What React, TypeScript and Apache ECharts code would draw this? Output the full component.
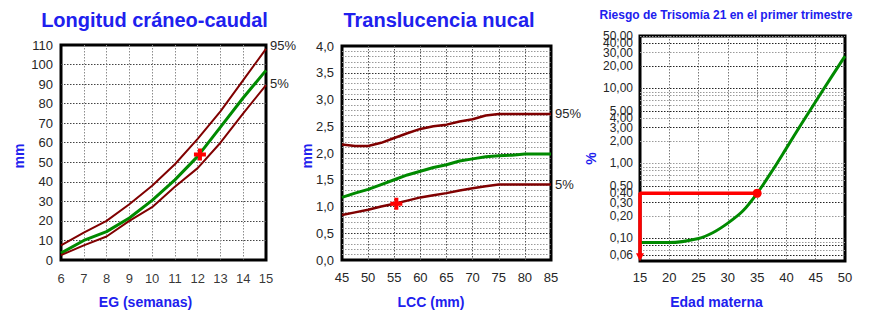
import React, { useEffect, useRef } from 'react';
import * as echarts from 'echarts';

const FONT = '"Liberation Sans", Arial, Helvetica, sans-serif';
const BLUE = '#2020ee';
const DARKRED = '#800000';
const GREEN = '#008a00';
const LABEL = '#262626';
const DOT = [1.5, 1.5];

// ---- Chart 1: Longitud cráneo-caudal ----
const weeks = [6, 7, 8, 9, 10, 11, 12, 13, 14, 15];
const weekTicks = [6, 7, 8, 9, 10, 11, 12, 13, 14, 15];
const crl95 = [7.5, 14, 20, 28.5, 38, 49, 62, 76, 92, 108];
const crl50 = [3.5, 10, 14.5, 21.5, 30.5, 41, 53, 68, 83, 97];
const crl5 = [2.5, 7.5, 12, 20, 27, 37.5, 47, 60, 75, 89.5];
const crlPoint = [12.1, 54];
const crlMin = 0;
const crlMax = 110;

// ---- Chart 2: Translucencia nucal ----
const lcc = [45, 47.5, 50, 52.5, 55, 57.5, 60, 62.5, 65, 67.5, 70, 72.5, 75, 77.5, 80, 82.5, 85];
const tn95 = [2.16, 2.13, 2.13, 2.19, 2.28, 2.37, 2.45, 2.5, 2.53, 2.59, 2.63, 2.7, 2.73, 2.73, 2.73, 2.73, 2.73];
const tn50 = [1.17, 1.25, 1.32, 1.41, 1.5, 1.59, 1.66, 1.73, 1.78, 1.85, 1.89, 1.93, 1.95, 1.96, 1.98, 1.98, 1.98];
const tn5 = [0.84, 0.89, 0.94, 1.0, 1.05, 1.11, 1.17, 1.21, 1.25, 1.3, 1.34, 1.38, 1.41, 1.41, 1.41, 1.41, 1.41];
const tnPoint = [55.4, 1.05];

// ---- Chart 3: Riesgo de Trisomía 21 ----
const ages = [15, 20, 25, 27.5, 30, 32.5, 35, 37.5, 40, 42.5, 45, 47.5, 50];
const risk = [0.088, 0.088, 0.1, 0.12, 0.16, 0.23, 0.4, 0.78, 1.6, 3.3, 6.7, 13.5, 27];
const riskGridValues = [
  0.06, 0.07, 0.08, 0.09, 0.1, 0.2, 0.3, 0.4, 0.5, 0.6, 0.7, 0.8, 0.9,
  1, 2, 3, 4, 5, 6, 7, 8, 9, 10, 20, 30, 40, 50,
];
const riskLabelValues = [50, 40, 30, 20, 10, 5, 4, 3, 2, 1, 0.5, 0.4, 0.3, 0.2, 0.1, 0.06];
const riskDarkValues = [40, 20, 10, 5, 3, 0.5, 0.3, 0.1, 0.08, 0.06];
const riskMin = 0.05;
const riskMax = 50;
const patientAge = 35;
const patientRisk = 0.4;
const arrowRisk = 0.056;

const fmtComma = (v: number, d: number) => v.toFixed(d).replace('.', ',');

const CROSS = 'path://M4,0H8V4H12V8H8V12H4V8H0V4H4Z';

function buildOption() {
  const gridBase = {
    show: true,
    borderColor: '#000',
    borderWidth: 3,
    backgroundColor: '#fff',
    containLabel: false,
  };
  const axisCommon = {
    axisLine: { show: false },
    axisTick: { show: false },
  };
  const xLabel = (margin: number) => ({
    color: LABEL,
    fontSize: 13,
    fontFamily: FONT,
    margin,
    interval: 0,
    hideOverlap: false,
  });

  const markLineData = riskGridValues.map((v) => {
    const labeled = riskLabelValues.includes(v);
    const dark = riskDarkValues.includes(v);
    return {
      yAxis: v,
      lineStyle: { color: dark ? '#222' : '#9a9a9a', type: DOT, width: 1 },
      label: labeled
        ? { show: true, formatter: fmtComma(v, 2) }
        : { show: false },
    };
  });

  const text = (t: string, x: number, y: number, size: number, rot = 0) => ({
    type: 'text',
    x,
    y,
    rotation: rot,
    silent: true,
    style: {
      text: t,
      fill: BLUE,
      fontSize: size,
      fontWeight: 'bold',
      fontFamily: FONT,
      align: 'center',
      verticalAlign: 'middle',
    },
  });

  const endLabel = (t: string, offY: number) => ({
    show: true,
    formatter: t,
    color: LABEL,
    fontSize: 13,
    fontFamily: FONT,
    distance: 4,
    offset: [0, offY],
  });

  return {
    animation: false,
    backgroundColor: '#fff',
    textStyle: { fontFamily: FONT },
    graphic: [
      text('Longitud cráneo-caudal', 154.5, 20, 20),
      text('Translucencia nucal', 439, 20, 20),
      text('Riesgo de Trisomía 21 en el primer trimestre', 726, 15, 12),
      text('EG (semanas)', 145.5, 302, 14),
      text('LCC (mm)', 431, 302, 14),
      text('Edad materna', 716.5, 302, 14),
      text('mm', 19, 156, 14, Math.PI / 2),
      text('mm', 306.5, 156, 14, Math.PI / 2),
      text('%', 591, 158.5, 14, Math.PI / 2),
    ],
    grid: [
      { ...gridBase, left: 61, top: 45, width: 205, height: 215 },
      { ...gridBase, left: 342, top: 46, width: 209, height: 214 },
      { ...gridBase, left: 640, top: 36, width: 205, height: 225 },
    ],
    xAxis: [
      {
        gridIndex: 0,
        type: 'value',
        min: 6,
        max: 15,
        interval: 1,
        ...axisCommon,
        axisLabel: { show: false },
        splitLine: {
          show: true,
          showMinLine: false,
          showMaxLine: false,
          lineStyle: { color: '#8c8c8c', type: DOT, width: 1 },
        },
      },
      {
        gridIndex: 1,
        type: 'value',
        min: 45,
        max: 85,
        interval: 5,
        ...axisCommon,
        axisLabel: xLabel(11),
        splitLine: {
          show: true,
          showMinLine: false,
          showMaxLine: false,
          lineStyle: { color: '#555', type: DOT, width: 1 },
        },
      },
      {
        gridIndex: 2,
        type: 'value',
        min: 15,
        max: 50,
        interval: 5,
        ...axisCommon,
        axisLabel: xLabel(10),
        splitLine: {
          show: true,
          showMinLine: false,
          showMaxLine: false,
          lineStyle: { color: '#777', type: DOT, width: 1 },
        },
      },
    ],
    yAxis: [
      {
        gridIndex: 0,
        type: 'value',
        min: crlMin,
        max: crlMax,
        interval: 10,
        ...axisCommon,
        axisLabel: { color: LABEL, fontSize: 13, fontFamily: FONT, margin: 8, interval: 0, hideOverlap: false },
        splitLine: {
          show: true,
          showMinLine: false,
          showMaxLine: false,
          lineStyle: { color: '#444', type: DOT, width: 1 },
        },
      },
      {
        gridIndex: 1,
        type: 'value',
        min: 0,
        max: 4,
        interval: 0.5,
        ...axisCommon,
        axisLabel: {
          color: LABEL,
          fontSize: 13,
          fontFamily: FONT,
          margin: 8,
          interval: 0,
          hideOverlap: false,
          formatter: (v: number) => fmtComma(v, 1),
        },
        splitLine: {
          show: true,
          showMinLine: false,
          showMaxLine: false,
          lineStyle: { color: '#333', type: DOT, width: 1 },
        },
        minorTick: { show: false, splitNumber: 5 },
        minorSplitLine: {
          show: true,
          lineStyle: { color: '#9a9a9a', type: DOT, width: 1 },
        },
      },
      {
        gridIndex: 2,
        type: 'log',
        logBase: 10,
        min: riskMin,
        max: riskMax,
        ...axisCommon,
        axisLabel: { show: false },
        splitLine: { show: false },
      },
    ],
    series: [
      {
        // tick labels of the gestational-age axis, placed by the x scale
        name: 'EG ticks',
        type: 'scatter',
        xAxisIndex: 0,
        yAxisIndex: 0,
        data: weekTicks.map((w) => [w, crlMin]),
        symbol: 'circle',
        symbolSize: 1,
        itemStyle: { color: 'rgba(0,0,0,0)' },
        silent: true,
        clip: false,
        label: {
          show: true,
          position: 'bottom',
          distance: 11,
          color: '#000',
          fontSize: 13,
          fontFamily: FONT,
          formatter: (p: any) => String(p.value[0]),
        },
        z: 1,
      },
      {
        name: 'LCC 95%',
        type: 'line',
        xAxisIndex: 0,
        yAxisIndex: 0,
        data: weeks.map((w, i) => [w, crl95[i]]),
        symbol: 'none',
        lineStyle: { color: DARKRED, width: 2 },
        endLabel: endLabel('95%', -3),
        z: 3,
      },
      {
        name: 'LCC 50%',
        type: 'line',
        xAxisIndex: 0,
        yAxisIndex: 0,
        data: weeks.map((w, i) => [w, crl50[i]]),
        symbol: 'none',
        lineStyle: { color: GREEN, width: 3 },
        z: 3,
      },
      {
        name: 'LCC 5%',
        type: 'line',
        xAxisIndex: 0,
        yAxisIndex: 0,
        data: weeks.map((w, i) => [w, crl5[i]]),
        symbol: 'none',
        lineStyle: { color: DARKRED, width: 2 },
        endLabel: endLabel('5%', -2),
        z: 3,
      },
      {
        name: 'LCC paciente',
        type: 'scatter',
        xAxisIndex: 0,
        yAxisIndex: 0,
        data: [crlPoint],
        symbol: CROSS,
        symbolSize: 12,
        itemStyle: { color: '#ff0000', opacity: 1 },
        z: 5,
      },
      {
        name: 'TN 95%',
        type: 'line',
        xAxisIndex: 1,
        yAxisIndex: 1,
        data: lcc.map((x, i) => [x, tn95[i]]),
        symbol: 'none',
        lineStyle: { color: DARKRED, width: 2.5 },
        endLabel: endLabel('95%', 0),
        z: 3,
      },
      {
        name: 'TN 50%',
        type: 'line',
        xAxisIndex: 1,
        yAxisIndex: 1,
        data: lcc.map((x, i) => [x, tn50[i]]),
        symbol: 'none',
        lineStyle: { color: GREEN, width: 3 },
        z: 3,
      },
      {
        name: 'TN 5%',
        type: 'line',
        xAxisIndex: 1,
        yAxisIndex: 1,
        data: lcc.map((x, i) => [x, tn5[i]]),
        symbol: 'none',
        lineStyle: { color: DARKRED, width: 2.5 },
        endLabel: endLabel('5%', 0),
        z: 3,
      },
      {
        name: 'TN paciente',
        type: 'scatter',
        xAxisIndex: 1,
        yAxisIndex: 1,
        data: [tnPoint],
        symbol: CROSS,
        symbolSize: 12,
        itemStyle: { color: '#ff0000', opacity: 1 },
        z: 5,
      },
      {
        name: 'Riesgo',
        type: 'line',
        xAxisIndex: 2,
        yAxisIndex: 2,
        data: ages.map((a, i) => [a, risk[i]]),
        symbol: 'none',
        smooth: 0.3,
        lineStyle: { color: GREEN, width: 3 },
        z: 3,
        markLine: {
          silent: true,
          symbol: ['none', 'none'],
          z: 1,
          animation: false,
          label: {
            position: 'start',
            distance: 7,
            color: LABEL,
            fontSize: 12,
            fontFamily: FONT,
          },
          emphasis: { disabled: true },
          data: markLineData,
        },
      },
      {
        name: 'Edad paciente',
        type: 'line',
        xAxisIndex: 2,
        yAxisIndex: 2,
        data: [
          [patientAge, patientRisk],
          [ages[0], patientRisk],
          [ages[0], arrowRisk],
        ],
        symbol: 'none',
        lineStyle: { color: '#ff0000', width: 3.5 },
        clip: false,
        z: 4,
      },
      {
        name: 'Punto',
        type: 'scatter',
        xAxisIndex: 2,
        yAxisIndex: 2,
        data: [[patientAge, patientRisk]],
        symbol: 'circle',
        symbolSize: 9,
        itemStyle: { color: '#ff0000', opacity: 1 },
        z: 5,
      },
      {
        name: 'Flecha',
        type: 'scatter',
        xAxisIndex: 2,
        yAxisIndex: 2,
        data: [[ages[0], arrowRisk]],
        symbol: 'triangle',
        symbolRotate: 180,
        symbolSize: [8, 8],
        clip: false,
        itemStyle: { color: '#ff0000', opacity: 1 },
        z: 6,
      },
    ],
  };
}

export default function App() {
  const ref = useRef<HTMLDivElement>(null);
  useEffect(() => {
    if (!ref.current) return;
    const chart = echarts.init(ref.current, undefined, { renderer: 'svg' });
    chart.setOption(buildOption() as any);
    return () => chart.dispose();
  }, []);
  return (
    <div
      ref={ref}
      style={{ position: 'fixed', left: 0, top: 0, width: 886, height: 333, background: '#fff' }}
    />
  );
}
